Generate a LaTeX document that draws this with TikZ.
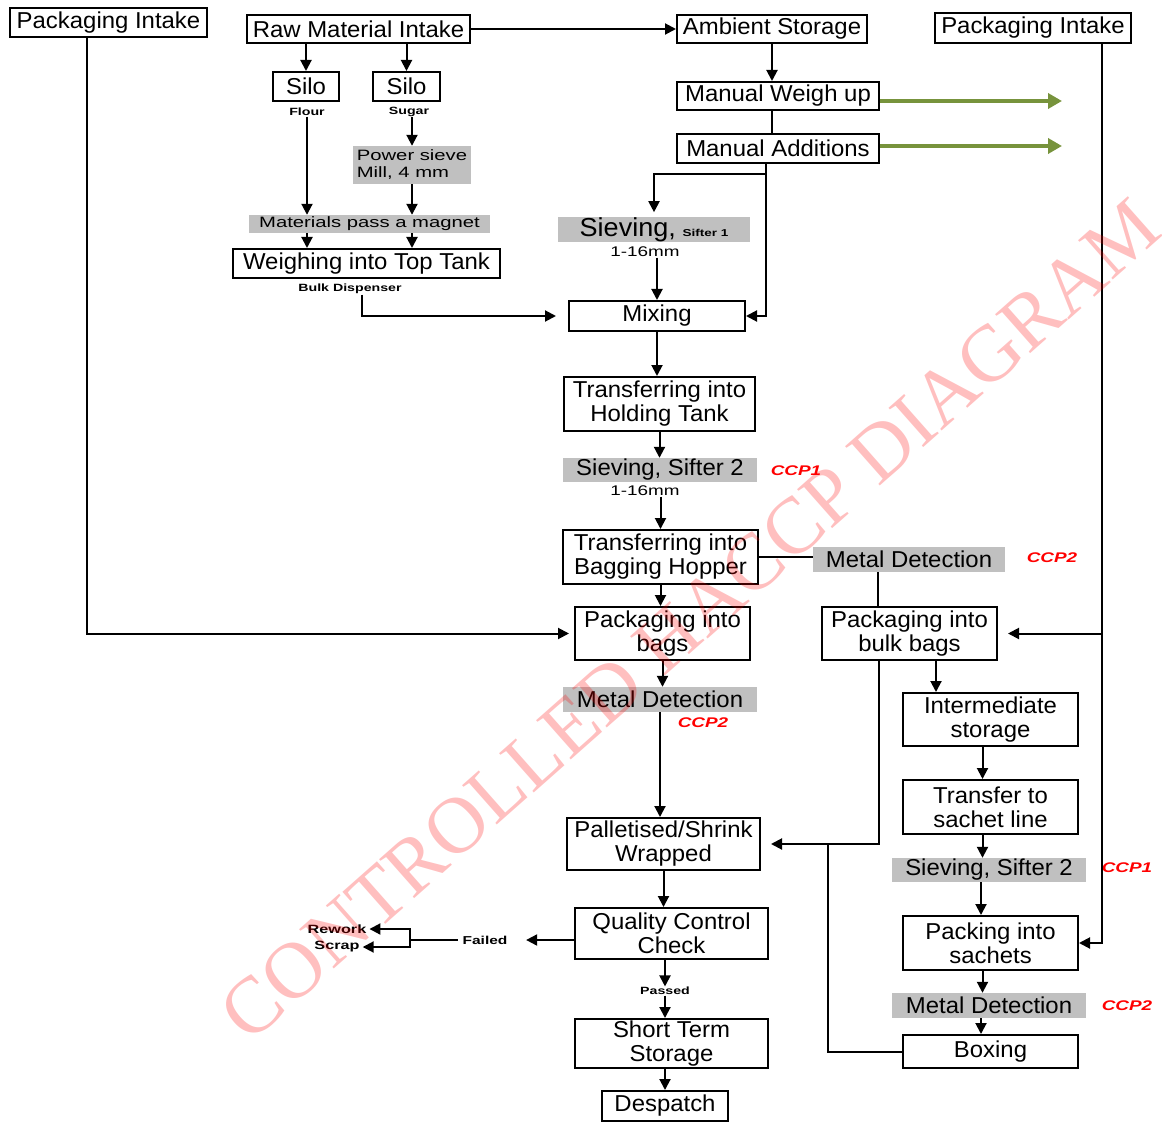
\documentclass[tikz,border=0pt]{standalone}
\usepackage{fontspec}
\setmainfont[FakeStretch=1.04]{Liberation Sans}
\newfontfamily\widefont[FakeStretch=1.35]{Liberation Sans}
\newfontfamily\markfont{Liberation Serif}
\usetikzlibrary{arrows.meta}
\usepackage{xcolor}
\definecolor{stepgray}{RGB}{192,192,192}
\definecolor{addgreen}{RGB}{119,147,60}

\begin{document}
\begin{tikzpicture}[x=1pt,y=-1pt]
	\tikzstyle{box} = [rectangle,draw=black,fill=white,line width=2pt,inner sep=0pt,align=center,font=\fontsize{23}{24}\selectfont]
	\tikzstyle{ccpbox} = [rectangle,fill=stepgray,inner sep=0pt,align=center,font=\fontsize{23}{24}\selectfont]
	\tikzstyle{smallbox} = [rectangle,fill=stepgray,inner sep=0pt,font=\widefont\fontsize{15}{17}\selectfont]
	\tikzstyle{note} = [inner sep=0.5pt,font=\widefont\bfseries\fontsize{10.5}{12}\selectfont]
	\tikzstyle{sizenote} = [inner sep=0.5pt,font=\widefont\fontsize{14}{16}\selectfont]
	\tikzstyle{ccp} = [inner sep=0pt,text=red,font=\widefont\bfseries\itshape\fontsize{14}{16}\selectfont]
	\tikzstyle{edge} = [-,line width=2pt]
	\tikzstyle{arrow} = [-{Triangle[length=11pt,width=11pt]},line width=2pt]
	\tikzstyle{greenarrow} = [-{Triangle[length=14pt,width=15pt]},line width=4pt,draw=addgreen,fill=addgreen]
	\useasboundingbox (0,0) rectangle (1162,1123);
	\node[box,minimum width=197pt,minimum height=29pt] (pkl) at (108.5,22.5) {Packaging Intake};
	\node[box,minimum width=223pt,minimum height=28pt] (raw) at (358.5,29) {Raw Material Intake};
	\node[box,minimum width=190pt,minimum height=28pt] (amb) at (772,29) {Ambient Storage};
	\node[box,minimum width=196pt,minimum height=30pt] (pkr) at (1033,28) {Packaging Intake};
	\node[box,minimum width=66pt,minimum height=29pt] (silo1) at (306,86.5) {Silo};
	\node[box,minimum width=67pt,minimum height=29pt] (silo2) at (406.5,86.5) {Silo};
	\node[note] (flour) at (307,112) {Flour};
	\node[note] (sugar) at (409,112) {Sugar};
	\node[box,minimum width=202pt,minimum height=28pt] (weighup) at (778,96) {Manual Weigh up};
	\node[box,minimum width=202pt,minimum height=29pt] (additions) at (778,148.5) {Manual Additions};
	\node[smallbox,minimum width=118pt,minimum height=38pt,align=left] (powersieve) at (412,165) {Power sieve\\Mill, 4 mm};
	\node[smallbox,minimum width=241pt,minimum height=18pt] (magnet) at (369.5,224) {Materials pass a magnet};
	\node[box,minimum width=267pt,minimum height=29pt] (weigh) at (366.5,263.5) {Weighing into Top Tank};
	\node[note] (dispenser) at (350,289) {Bulk Dispenser};
	\node[ccpbox,minimum width=192pt,minimum height=23pt] (sifter1) at (654,229.5) {{\fontsize{26}{26}\selectfont Sieving,} {\widefont\bfseries\fontsize{10}{10}\selectfont Sifter 1}};
	\node[sizenote] (mm1) at (645,252) {1-16mm};
	\node[box,minimum width=176pt,minimum height=30pt] (mixing) at (657,316) {Mixing};
	\node[box,minimum width=191pt,minimum height=54pt] (holding) at (659.5,404) {Transferring into\\Holding Tank};
	\node[ccpbox,minimum width=194pt,minimum height=24pt] (sifter2) at (660,470) {Sieving, Sifter 2};
	\node[ccp] (ccp1) at (796,471) {CCP1};
	\node[sizenote] (mm2) at (645,491) {1-16mm};
	\node[box,minimum width=195pt,minimum height=54pt] (hopper) at (660.5,557) {Transferring into\\Bagging Hopper};
	\node[ccpbox,minimum width=192pt,minimum height=25pt] (metal1) at (909,559.5) {Metal Detection};
	\node[ccp] (ccp2) at (1052,558) {CCP2};
	\node[box,minimum width=175pt,minimum height=53pt] (bags) at (662.5,633.5) {Packaging into\\bags};
	\node[box,minimum width=175pt,minimum height=53pt] (bulkbags) at (909.5,633.5) {Packaging into\\bulk bags};
	\node[ccpbox,minimum width=194pt,minimum height=25pt] (metal2) at (660,699.5) {Metal Detection};
	\node[ccp] (ccp3) at (703,723) {CCP2};
	\node[box,minimum width=175pt,minimum height=53pt] (storage) at (990.5,719.5) {Intermediate\\storage};
	\node[box,minimum width=175pt,minimum height=54pt] (transfer) at (990.5,807) {Transfer to\\sachet line};
	\node[box,minimum width=193pt,minimum height=52pt] (pallet) at (663.5,844) {Palletised/Shrink\\Wrapped};
	\node[ccpbox,minimum width=194pt,minimum height=24pt] (sifter3) at (989,870) {Sieving, Sifter 2};
	\node[ccp] (ccp4) at (1127,868) {CCP1};
	\node[box,minimum width=193pt,minimum height=51pt] (quality) at (671.5,933.5) {Quality Control\\Check};
	\node[box,minimum width=175pt,minimum height=54pt] (sachets) at (990.5,943) {Packing into\\sachets};
	\node[note,font=\widefont\bfseries\fontsize{11.5}{12}\selectfont] (failed) at (485,940) {Failed};
	\node[note,inner sep=0pt,font=\widefont\bfseries\fontsize{12}{13}\selectfont] (rework) at (337,929) {Rework};
	\node[note,inner sep=0pt,font=\widefont\bfseries\fontsize{12}{13}\selectfont] (scrap) at (337,947) {Scrap};
	\node[note] (passed) at (665,991) {Passed};
	\node[ccpbox,minimum width=194pt,minimum height=25pt] (metal3) at (989,1005.5) {Metal Detection};
	\node[ccp] (ccp5) at (1127,1006) {CCP2};
	\node[box,minimum width=175pt,minimum height=33pt] (boxing) at (990.5,1051.5) {Boxing};
	\node[box,minimum width=193pt,minimum height=49pt] (shortterm) at (671.5,1043.5) {Short Term\\Storage};
	\node[box,minimum width=126pt,minimum height=30pt] (despatch) at (665,1106) {Despatch};
	\coordinate (g1) at (1062,101);
	\coordinate (g2) at (1062,146);
	\coordinate (fork) at (410,940);
	\coordinate (join) at (828,844);
	\draw[arrow] (raw.east) -- (amb.west);
	\draw[arrow] (raw.south -| silo1) -- (silo1.north);
	\draw[arrow] (raw.south -| silo2) -- (silo2.north);
	\draw[arrow] (flour.south) -- (flour.south |- magnet.north);
	\draw[arrow] (sugar.south -| powersieve) -- (powersieve.north);
	\draw[arrow] (powersieve.south) -- (powersieve.south |- magnet.north);
	\draw[arrow] (magnet.south -| flour) -- (weigh.north -| flour);
	\draw[arrow] (magnet.south -| powersieve) -- (weigh.north -| powersieve);
	\draw[arrow,shorten >=12pt] ([xshift=12pt]dispenser.south) |- (mixing.west);
	\draw[arrow] (amb.south) -- (amb.south |- weighup.north);
	\draw[edge] (amb.south |- weighup.south) -- (amb.south |- additions.north);
	\draw[greenarrow] (weighup.east |- g1) -- (g1);
	\draw[greenarrow] (additions.east |- g2) -- (g2);
	\draw[arrow] ([xshift=-12pt]additions.south) |- (mixing.east);
	\draw[arrow,shorten >=5pt] ([xshift=-12pt,yshift=-10pt]additions.south) -| (sifter1.north);
	\draw[arrow] (mm1.south -| mixing) -- (mixing.north);
	\foreach \a/\b in {mixing/holding, holding/sifter2, hopper/bags, bags/metal2, metal2/pallet, pallet/quality}
		\draw[arrow] (\a.south) -- (\a.south |- \b.north);
	\draw[arrow] (mm2.south -| hopper) -- (hopper.north);
	\draw[edge] (hopper.east) -- (hopper.east -| metal1.west);
	\draw[edge] ([xshift=-31pt]metal1.south) -- ([xshift=-31pt]metal1.south |- bulkbags.north);
	\draw[arrow,shorten >=18pt] (quality.west |- failed.east) -- (failed.east);
	\draw[edge] ([xshift=-4pt]failed.west) -- (fork);
	\draw[arrow,shorten >=3pt] (fork) |- (rework.east);
	\draw[arrow,shorten >=3pt] (fork) |- (scrap.east);
	\draw[arrow] (quality.south -| passed) -- (passed.north);
	\draw[arrow] (passed.south) -- (passed.south |- shortterm.north);
	\draw[arrow] (despatch.north |- shortterm.south) -- (despatch.north);
	\draw[arrow,shorten >=5pt] ([xshift=-21.5pt]pkl.south) |- (bags.west);
	\draw[arrow] ([xshift=69pt]pkr.south) |- (sachets.east);
	\draw[arrow,shorten >=10pt] ([xshift=69pt]pkr.south) |- (bulkbags.east);
	\draw[arrow] ([xshift=26.5pt]bulkbags.south) -- ([xshift=26.5pt]bulkbags.south |- storage.north);
	\draw[arrow,shorten >=10pt] ([xshift=-31pt]bulkbags.south) |- (pallet.east);
	\draw[edge] (boxing.west) -| (join);
	\foreach \a/\b in {storage/transfer, transfer/sifter3, sifter3/sachets, sachets/metal3, metal3/boxing}
		\draw[arrow] ([xshift=-8pt]\a.south) -- ([xshift=-8pt]\a.south |- \b.north);
	\node[rotate=41.5,text=red,text opacity=0.25,font=\markfont\fontsize{80}{80}\selectfont] (mark) at (690,620) {CONTROLLED HACCP DIAGRAM};
\end{tikzpicture}
\end{document}
